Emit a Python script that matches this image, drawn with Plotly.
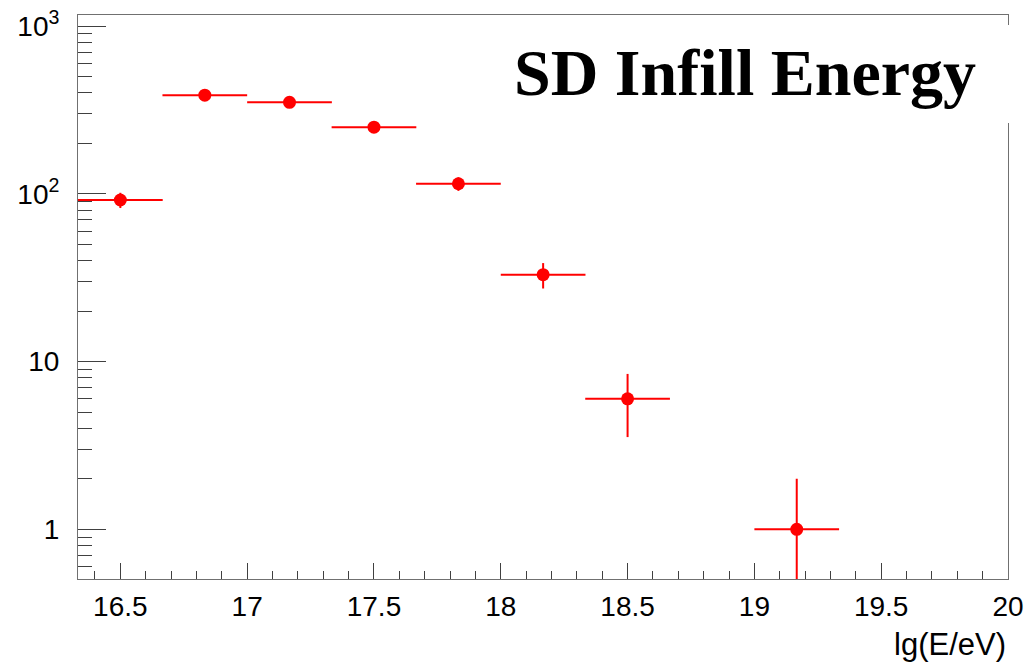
import plotly.graph_objects as go

# Event counts per energy bin (bin centres in lg(E/eV))
bin_centers = [16.5, 16.833, 17.167, 17.5, 17.833, 18.167, 18.5, 19.167]
bin_halfwidth = [0.167, 0.167, 0.167, 0.167, 0.167, 0.167, 0.167, 0.167]
counts = [92, 388, 352, 250, 115, 33, 6, 1]
count_err = [9.6, 19.7, 18.8, 15.8, 10.7, 5.7, 2.45, 1.0]

x_tickvals = [16.5, 17, 17.5, 18, 18.5, 19, 19.5, 20]
x_ticktext = ["16.5", "17", "17.5", "18", "18.5", "19", "19.5", "20"]
y_tickvals = [1, 10, 100, 1000]
y_ticktext = ["1", "10", "10<sup>2</sup>", "10<sup>3</sup>"]

RED = "#ff0000"
AXIS = "#707070"
TICK = "#404040"
SANS = "Liberation Sans, Arial, sans-serif"

fig = go.Figure()
fig.add_trace(go.Scatter(
    x=bin_centers,
    y=counts,
    mode="markers",
    marker=dict(color=RED, size=13, symbol="circle"),
    error_x=dict(type="data", array=bin_halfwidth, color=RED, thickness=2, width=0),
    error_y=dict(type="data", array=count_err, color=RED, thickness=2, width=0),
    showlegend=False,
))

fig.update_layout(
    width=1032,
    height=668,
    margin=dict(l=78, r=24, t=15, b=89),
    paper_bgcolor="white",
    plot_bgcolor="white",
    font=dict(family=SANS, color="black"),
    xaxis=dict(
        range=[16.333, 20],
        tickmode="array",
        tickvals=x_tickvals,
        ticktext=x_ticktext,
        ticks="inside",
        ticklen=16,
        tickwidth=1,
        tickcolor=TICK,
        minor=dict(ticks="inside", ticklen=8, dtick=0.1, tick0=16.0, tickcolor=TICK, showgrid=False),
        showline=True,
        linecolor=AXIS,
        linewidth=1,
        mirror=True,
        showgrid=False,
        zeroline=False,
        automargin=False,
        tickfont=dict(size=28, family=SANS, color="black"),
        ticklabelstandoff=2,
    ),
    yaxis=dict(
        type="log",
        range=[-0.296, 3.067],
        tickmode="array",
        tickvals=y_tickvals,
        ticktext=y_ticktext,
        ticks="inside",
        ticklen=28,
        tickwidth=1,
        tickcolor=TICK,
        minor=dict(ticks="inside", ticklen=14, dtick="D1", tickcolor=TICK, showgrid=False),
        showline=True,
        linecolor=AXIS,
        linewidth=1,
        mirror=True,
        showgrid=False,
        zeroline=False,
        automargin=False,
        tickfont=dict(size=28, family=SANS, color="black"),
        ticklabelstandoff=12,
    ),
)

# White label box over the upper right of the frame
fig.add_shape(
    type="rect", xref="paper", yref="paper",
    x0=0.46, x1=1.01, y0=(579 - 123) / 564, y1=(579 - 25) / 564,
    fillcolor="white", line=dict(width=0), layer="above",
)
fig.add_annotation(
    text="<b>SD Infill Energy</b>",
    xref="paper", yref="paper",
    x=(978 - 78) / 930, y=(579 - 72) / 564,
    xanchor="right", yanchor="middle",
    showarrow=False,
    font=dict(family="Liberation Serif, Times New Roman, serif", size=66, color="black"),
)

# Axis title at the right end of the x axis
fig.add_annotation(
    text="lg(E/eV)",
    xref="paper", yref="paper",
    x=1.0, y=-(644 - 579) / 564,
    xanchor="right", yanchor="middle",
    showarrow=False,
    font=dict(family=SANS, size=31, color="black"),
)

fig.write_html("out.html")
